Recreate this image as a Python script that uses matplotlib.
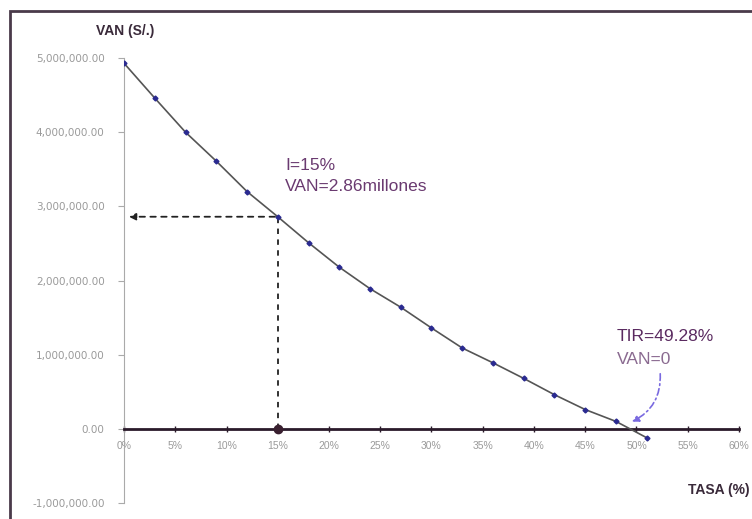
import numpy as np
import matplotlib.pyplot as plt
from matplotlib.patches import Rectangle

# tasa de descuento (%) y VAN (S/.)
tasa = [0, 3, 6, 9, 12, 15, 18, 21, 24, 27, 30, 33, 36, 39, 42, 45, 48, 51]
van = [4930000, 4460000, 4000000, 3610000, 3200000, 2860000, 2510000, 2180000, 1890000,
       1640000, 1360000, 1090000, 890000, 680000, 460000, 260000, 100000, -120000]

x_ticks = [0, 5, 10, 15, 20, 25, 30, 35, 40, 45, 50, 55, 60]
x_labels = ['0%', '5%', '10%', '15%', '20%', '25%', '30%', '35%', '40%', '45%', '50%', '55%', '60%']
y_ticks = [-1000000, 0, 1000000, 2000000, 3000000, 4000000, 5000000]
y_labels = ['-1,000,000.00', '0.00', '1,000,000.00', '2,000,000.00', '3,000,000.00',
            '4,000,000.00', '5,000,000.00']

i_sel = 15        # tasa elegida
van_sel = 2860000
tir = 49.28

plt.rcParams['font.family'] = ['Liberation Sans', 'DejaVu Sans']

fig = plt.figure(figsize=(7.52, 5.19), dpi=100)
ax = fig.add_axes([0.1649, 0.0308, 0.8178, 0.8574])

# marco exterior
fig.patches.append(Rectangle((0.0133, -0.05), 1.1, 1.029, transform=fig.transFigure,
                             fill=False, edgecolor='#4a3a4a', linewidth=2))

ax.plot(tasa, van, color='#555555', linewidth=1.2, marker='D', markersize=2.5,
        markerfacecolor='#2a2a90', markeredgecolor='#2a2a90', zorder=3)

# lineas punteadas para I=15%
ax.plot([i_sel, i_sel], [0, van_sel], color='#222222', linestyle=(0, (3, 3)), linewidth=1.3)
ax.annotate('', xy=(0.2, van_sel), xytext=(i_sel, van_sel),
            arrowprops=dict(arrowstyle='-|>', color='#222222', linestyle=(0, (3, 3)),
                            linewidth=1.3, mutation_scale=10))
ax.plot([i_sel], [0], 'o', color='#3a2030', markersize=6, zorder=5)

ax.text(15.7, 3170000, 'I=15%\nVAN=2.86millones', color='#6a3a70', fontsize=12.5,
        linespacing=1.45, va='bottom')
ax.text(48.1, 1150000, 'TIR=49.28%', color='#5a2a60', fontsize=12.5, va='bottom')
ax.text(48.1, 835000, 'VAN=0', color='#8a6a90', fontsize=12.5, va='bottom')

# flecha curva hacia la TIR
ax.annotate('', xy=(49.3, 80000), xytext=(52.3, 780000),
            arrowprops=dict(arrowstyle='-|>', color='#7a6ae0', linestyle=(0, (4, 2, 1, 2)),
                            linewidth=1.2, connectionstyle='arc3,rad=-0.35', mutation_scale=10))

ax.set_xlim(0, 60)
ax.set_ylim(-1000000, 5000000)
ax.set_xticks(x_ticks)
ax.set_xticklabels(x_labels, fontfamily='DejaVu Sans')
ax.set_yticks(y_ticks)
ax.set_yticklabels(y_labels, fontfamily='DejaVu Sans')

ax.spines['top'].set_visible(False)
ax.spines['right'].set_visible(False)
ax.spines['bottom'].set_position(('data', 0))
ax.spines['bottom'].set_color('#2a1a2a')
ax.spines['bottom'].set_linewidth(2)
ax.spines['left'].set_color('#aaaaaa')
ax.tick_params(axis='x', colors='#2a1a2a', direction='inout', length=4, width=1,
               labelcolor='#9a9a9a', labelsize=7.5, pad=7)
ax.tick_params(axis='y', colors='#aaaaaa', direction='out', length=4,
               labelcolor='#9a9a9a', labelsize=7.5, pad=10)

fig.text(0.166, 0.932, 'VAN (S/.)', fontsize=10, fontweight='bold', color='#3a2a3a', ha='center')
fig.text(0.997, 0.048, 'TASA (%)', fontsize=10, fontweight='bold', color='#3a2a3a', ha='right')

plt.savefig('out.png', dpi=100)
